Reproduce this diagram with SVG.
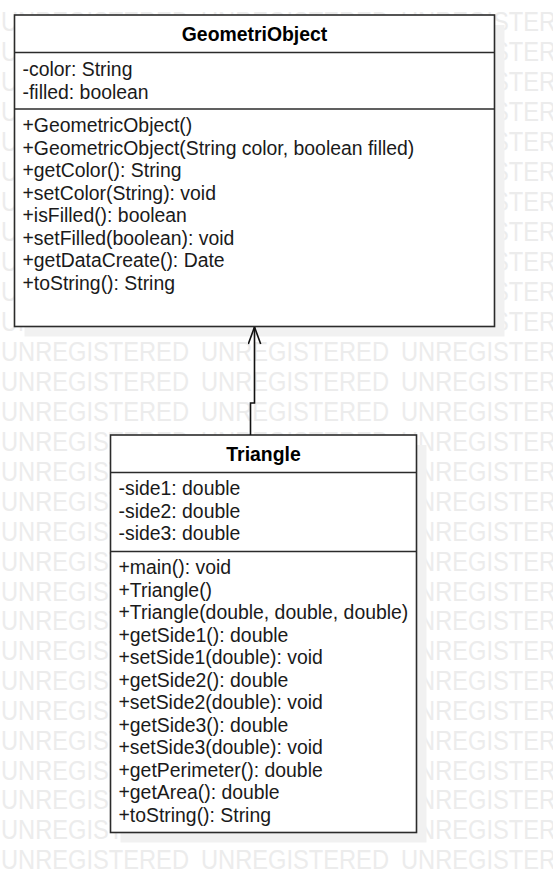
<svg xmlns="http://www.w3.org/2000/svg" xmlns:xlink="http://www.w3.org/1999/xlink" width="553" height="892" viewBox="0 0 553 892">
<style>
.wm{font-family:"Liberation Sans",Arial,sans-serif;font-size:27px;fill:#ececec}
.box{fill:#ffffff;stroke:#2b2b2b;stroke-width:1.6}
.shadow{fill:#f1f1f1}
.div{stroke:#2b2b2b;stroke-width:1.6}
.t{font-family:"Liberation Sans",Arial,sans-serif;font-size:19.4px;fill:#1a1a1a}
.title{font-family:"Liberation Sans",Arial,sans-serif;font-size:19.4px;font-weight:bold;fill:#000;text-anchor:middle}
.edge{fill:none;stroke:#111;stroke-width:1.6}
</style>
<defs>
<g id="wmrow">
<text class="wm" x="1" y="0" textLength="188" lengthAdjust="spacingAndGlyphs">UNREGISTERED</text>
<text class="wm" x="201" y="0" textLength="188" lengthAdjust="spacingAndGlyphs">UNREGISTERED</text>
<text class="wm" x="401" y="0" textLength="188" lengthAdjust="spacingAndGlyphs">UNREGISTERED</text>
</g>
<marker id="open" markerUnits="userSpaceOnUse" viewBox="0 0 18 14" refX="17.5" refY="7" markerWidth="18" markerHeight="14" orient="auto">
<path d="M0.5,0.8 L17.5,7 L0.5,13.2" fill="none" stroke="#111" stroke-width="1.6"/>
</marker>
</defs>
<rect x="0" y="0" width="553" height="892" fill="#ffffff"/>
<g id="watermark">
<use xlink:href="#wmrow" y="31"/><use xlink:href="#wmrow" y="61"/><use xlink:href="#wmrow" y="91"/><use xlink:href="#wmrow" y="121"/><use xlink:href="#wmrow" y="151"/><use xlink:href="#wmrow" y="181"/><use xlink:href="#wmrow" y="211"/><use xlink:href="#wmrow" y="241"/><use xlink:href="#wmrow" y="271"/><use xlink:href="#wmrow" y="301"/><use xlink:href="#wmrow" y="331"/><use xlink:href="#wmrow" y="361"/><use xlink:href="#wmrow" y="391"/><use xlink:href="#wmrow" y="421"/><use xlink:href="#wmrow" y="451"/><use xlink:href="#wmrow" y="481"/><use xlink:href="#wmrow" y="511"/><use xlink:href="#wmrow" y="541"/><use xlink:href="#wmrow" y="571"/><use xlink:href="#wmrow" y="601"/><use xlink:href="#wmrow" y="630"/><use xlink:href="#wmrow" y="660"/><use xlink:href="#wmrow" y="690"/><use xlink:href="#wmrow" y="720"/><use xlink:href="#wmrow" y="750"/><use xlink:href="#wmrow" y="780"/><use xlink:href="#wmrow" y="809"/><use xlink:href="#wmrow" y="839"/><use xlink:href="#wmrow" y="869"/>
</g>
<g id="GeometriObject">
<rect class="shadow" x="24.5" y="25" width="480" height="311.5"/>
<rect class="box" x="14.5" y="15" width="480" height="311.5"/>
<line class="div" x1="14.5" y1="52.5" x2="494.5" y2="52.5"/>
<line class="div" x1="14.5" y1="109" x2="494.5" y2="109"/>
<text class="title" x="254.5" y="40.5">GeometriObject</text>
<text class="t" x="22.5" y="76">-color: String</text>
<text class="t" x="22.5" y="98.5">-filled: boolean</text>
<text class="t" x="22.5" y="132">+GeometricObject()</text>
<text class="t" x="22.5" y="154.5">+GeometricObject(String color, boolean filled)</text>
<text class="t" x="22.5" y="177">+getColor(): String</text>
<text class="t" x="22.5" y="199.5">+setColor(String): void</text>
<text class="t" x="22.5" y="222">+isFilled(): boolean</text>
<text class="t" x="22.5" y="244.5">+setFilled(boolean): void</text>
<text class="t" x="22.5" y="267">+getDataCreate(): Date</text>
<text class="t" x="22.5" y="289.5">+toString(): String</text>
</g>
<g id="Triangle">
<rect class="shadow" x="120.5" y="445" width="306" height="397.5"/>
<rect class="box" x="110.5" y="435" width="306" height="397.5"/>
<line class="div" x1="110.5" y1="472.5" x2="416.5" y2="472.5"/>
<line class="div" x1="110.5" y1="551.5" x2="416.5" y2="551.5"/>
<text class="title" x="263.5" y="460.5">Triangle</text>
<text class="t" x="118.5" y="495">-side1: double</text>
<text class="t" x="118.5" y="517.5">-side2: double</text>
<text class="t" x="118.5" y="540">-side3: double</text>
<text class="t" x="118.5" y="574">+main(): void</text>
<text class="t" x="118.5" y="596.5">+Triangle()</text>
<text class="t" x="118.5" y="619">+Triangle(double, double, double)</text>
<text class="t" x="118.5" y="641.5">+getSide1(): double</text>
<text class="t" x="118.5" y="664">+setSide1(double): void</text>
<text class="t" x="118.5" y="686.5">+getSide2(): double</text>
<text class="t" x="118.5" y="709">+setSide2(double): void</text>
<text class="t" x="118.5" y="731.5">+getSide3(): double</text>
<text class="t" x="118.5" y="754">+setSide3(double): void</text>
<text class="t" x="118.5" y="776.5">+getPerimeter(): double</text>
<text class="t" x="118.5" y="799">+getArea(): double</text>
<text class="t" x="118.5" y="821.5">+toString(): String</text>
</g>
<g id="connectors">
<path class="edge" d="M250.5,435 L250.5,403 L254.5,403 L254.5,327" marker-end="url(#open)"/>
</g>
</svg>
